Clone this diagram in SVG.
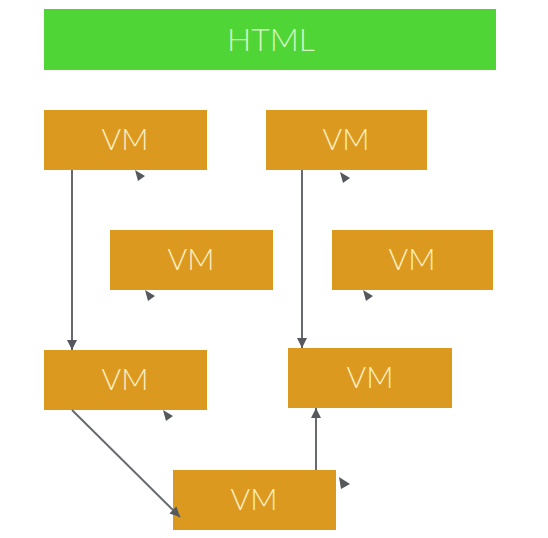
<svg xmlns="http://www.w3.org/2000/svg" width="548" height="538" viewBox="0 0 548 538">
<defs>
<style>
.vm rect{fill:#dc991f;}
.vm text{fill:#fbeec0;font-family:Lato,"Open Sans",sans-serif;font-weight:300;font-size:30px;text-anchor:middle;}
.html rect{fill:#4fd536;}
.html text{fill:#d2f7c2;font-family:Lato,"Open Sans",sans-serif;font-weight:300;font-size:32px;text-anchor:middle;}
.edge{stroke:#666a6e;stroke-width:2;fill:none;marker-end:url(#ah);}
.tri{fill:#55585c;}
</style>
<marker id="ah" viewBox="0 0 10 10" refX="10" refY="5" markerWidth="5" markerHeight="5" orient="auto" markerUnits="strokeWidth">
<path d="M0,0 L10,5 L0,10 z" fill="#55585c"/>
</marker>
</defs>
<rect width="548" height="538" fill="#ffffff"/>
<g id="html" class="html"><rect x="44" y="9" width="452" height="61"/><text x="271" y="51">HTML</text></g>
<g id="vm1" class="vm"><rect x="44" y="110" width="163" height="60"/><text x="125" y="150">VM</text></g>
<g id="vm2" class="vm"><rect x="266" y="110" width="161" height="60"/><text x="346" y="150">VM</text></g>
<g id="vm3" class="vm"><rect x="110" y="230" width="163" height="60"/><text x="191" y="270">VM</text></g>
<g id="vm4" class="vm"><rect x="332" y="230" width="161" height="60"/><text x="412" y="270">VM</text></g>
<g id="vm5" class="vm"><rect x="44" y="350" width="163" height="60"/><text x="125" y="390">VM</text></g>
<g id="vm6" class="vm"><rect x="288" y="348" width="164" height="60"/><text x="370" y="388">VM</text></g>
<g id="vm7" class="vm"><rect x="173" y="470" width="163" height="60"/><text x="254" y="510">VM</text></g>
<g id="connectors">
<path class="edge" d="M72,170 L72,350"/>
<path class="edge" d="M302,170 L302,348"/>
<path class="edge" d="M72,410 L180,517"/>
<path class="edge" d="M316,470 L316,408"/>
<polygon class="tri" points="135,170 145,176 138,181"/>
<polygon class="tri" points="145,290 155,296 148,301"/>
<polygon class="tri" points="340,172 350,178 343,183"/>
<polygon class="tri" points="363,290 373,296 366,301"/>
<polygon class="tri" points="163,410 173,416 166,421"/>
<polygon class="tri" points="339,477 350,484 341,489"/>
</g>
</svg>
